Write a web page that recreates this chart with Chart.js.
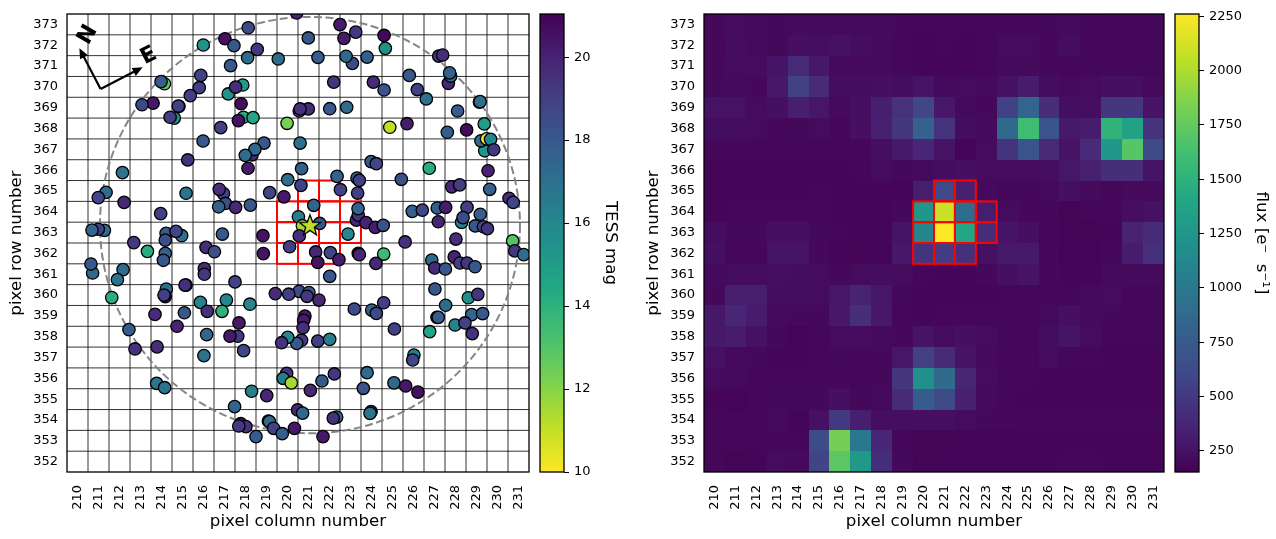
<!DOCTYPE html>
<html>
<head>
<meta charset="utf-8">
<title>TESS target pixel file</title>
<script src="https://cdn.jsdelivr.net/npm/chart.js@4"></script>
<style>
  html, body { margin: 0; padding: 0; background: #fff; width: 1276px; height: 539px; overflow: hidden; }
  canvas { position: absolute; top: 0; }
</style>
</head>
<body>
<canvas id="skyChart" width="535" height="539" style="left:0"></canvas>
<canvas id="magBar" width="105" height="539" style="left:535px"></canvas>
<canvas id="fluxChart" width="533" height="539" style="left:637px"></canvas>
<canvas id="fluxBar" width="106" height="539" style="left:1170px"></canvas>
<script>
const columns = [210, 211, 212, 213, 214, 215, 216, 217, 218, 219, 220, 221, 222, 223, 224, 225, 226, 227, 228, 229, 230, 231];
const rows = [352, 353, 354, 355, 356, 357, 358, 359, 360, 361, 362, 363, 364, 365, 366, 367, 368, 369, 370, 371, 372, 373];
const magTicks = [10, 12, 14, 16, 18, 20];
const fluxTicks = [250, 500, 750, 1000, 1250, 1500, 1750, 2000, 2250];

// nearby sources: column, row, TESS mag (same index in each list)
const sourceCols = [
  218.13, 217.02, 215.99, 217.45, 218.56, 218.10, 219.56, 217.29, 214.14, 213.98, 215.87, 215.80, 217.87, 217.18, 217.53,
  215.37, 213.60, 213.07, 217.79, 214.83, 214.80, 214.61, 214.41, 217.90, 218.36, 217.66, 219.98, 216.82, 215.98, 218.31,
  218.88, 218.45, 217.99, 215.25, 218.12, 212.14, 220.01, 211.36, 210.99, 215.17, 216.95, 216.75, 219.15, 219.83, 212.22,
  217.04, 216.72, 217.53, 218.23, 213.96, 211.28, 210.99, 210.69, 214.96, 214.22, 214.69, 214.18, 216.90, 218.83, 212.68,
  222.50, 223.25, 220.99, 222.69, 224.60, 224.66, 221.45, 223.09, 222.79, 223.79, 227.20, 227.39, 225.80, 227.66, 227.77,
  227.72, 222.20, 224.09, 224.60, 226.18, 226.61, 229.14, 229.17, 220.99, 220.56, 220.60, 222.01, 222.82, 228.10, 229.37,
  225.69, 224.87, 228.53, 227.61, 229.39, 229.21, 229.48, 229.67, 229.82, 220.60, 223.98, 224.23, 226.75, 229.55, 220.67,
  222.36, 223.31, 223.42, 225.42, 220.64, 222.52, 227.82, 228.20, 223.34, 229.63, 230.55, 230.75, 221.25, 223.28, 223.37,
  223.36, 223.74, 224.18, 224.56, 225.94, 226.42, 227.13, 227.53, 228.55, 229.18, 228.29, 228.36, 227.18, 228.94, 229.33,
  229.52, 220.52, 221.53, 220.71, 220.56, 222.88, 225.60, 228.02, 230.72, 220.44,
  221.34, 222.04, 221.44, 222.45, 223.37, 223.42, 224.58, 224.21, 226.87, 227.94, 227.01, 227.52, 228.21, 228.55, 228.93,
  230.82, 231.25, 222.01, 227.02, 228.61, 229.06, 220.55, 221.02, 220.93, 221.50, 227.53, 223.18, 224.01, 224.23, 224.58,
  227.12, 227.18, 228.77, 229.29, 227.98, 228.45, 228.80, 226.77, 225.09, 220.83, 220.77, 220.74, 220.67, 220.44, 221.44,
  222.01, 226.02, 225.96, 223.79, 222.23, 221.64, 221.09, 223.61, 225.07, 225.63, 226.21, 223.98, 223.93, 222.34, 222.18,
  220.48, 220.72, 221.69,
  216.12, 216.52, 213.33, 214.18, 214.09, 218.85, 220.10, 210.72, 210.64, 212.17, 211.90, 216.04, 216.04, 217.50, 214.23,
  215.17, 215.12, 214.18, 214.12, 211.63, 215.85, 217.09, 218.21, 219.42, 220.06, 216.18, 216.88, 215.09, 213.69, 217.69,
  214.74, 212.45, 216.15, 217.63, 217.26, 220.01, 219.72, 212.74, 213.79, 216.02, 217.91, 219.96, 219.79, 220.18, 213.77,
  214.15, 218.29, 219.01, 217.48, 217.77, 218.02, 217.68, 219.09, 219.14, 219.34, 219.75, 220.33, 218.50
];
const sourceRows = [
  372.84, 372.31, 372.01, 371.98, 371.80, 371.40, 371.34, 371.02, 370.15, 370.25, 370.55, 369.96, 370.09, 369.66, 369.99,
  369.58, 369.22, 369.14, 369.19, 369.06, 369.08, 368.50, 368.54, 368.54, 368.52, 368.38, 368.25, 368.04, 367.40, 366.73,
  367.30, 367.00, 366.71, 366.49, 366.09, 365.88, 365.54, 364.93, 364.68, 364.89, 364.87, 365.08, 364.92, 364.72, 364.45,
  364.40, 364.24, 364.21, 364.32, 363.91, 363.11, 363.16, 363.12, 362.85, 362.96, 363.06, 362.64, 362.93, 362.85, 362.52,
  372.99, 372.63, 372.35, 372.33, 372.47, 371.85, 371.42, 371.13, 371.47, 371.43, 371.48, 371.53, 370.55, 370.17, 370.52,
  370.67, 370.23, 370.23, 369.85, 369.87, 369.42, 369.27, 369.29, 368.94, 368.84, 368.94, 368.95, 369.02, 368.84, 368.22,
  368.23, 368.06, 367.93, 367.82, 366.93, 367.41, 367.50, 367.48, 366.98, 367.30, 366.41, 366.31, 366.09, 365.97, 366.07,
  365.70, 365.62, 365.51, 365.56, 365.27, 365.06, 365.20, 365.29, 364.90, 365.08, 364.65, 364.45, 364.31, 363.60, 363.84,
  364.15, 363.48, 363.25, 363.35, 364.02, 364.08, 364.18, 364.21, 364.21, 363.88, 363.49, 363.72, 363.52, 363.32, 363.28,
  363.19, 363.76, 363.44, 363.33, 362.84, 362.93, 362.55, 362.69, 362.60, 373.55,
  362.07, 362.04, 361.57, 361.70, 362.00, 361.94, 361.97, 361.52, 361.68, 361.83, 361.30, 361.25, 361.54, 361.54, 361.36,
  362.12, 361.94, 360.90, 360.29, 359.87, 360.03, 360.18, 360.12, 359.94, 359.76, 359.51, 359.33, 359.28, 359.12, 359.63,
  358.93, 358.93, 359.06, 359.11, 358.56, 358.66, 358.15, 358.24, 358.37, 358.99, 358.79, 358.43, 357.83, 357.68, 357.79,
  357.87, 357.12, 356.88, 356.27, 356.21, 355.87, 355.42, 355.52, 355.78, 355.63, 355.34, 354.40, 354.32, 354.14, 354.09,
  354.48, 354.33, 353.20,
  362.29, 362.08, 362.10, 362.00, 361.67, 361.99, 362.32, 361.06, 361.49, 361.22, 360.74, 361.27, 361.00, 360.63, 360.29,
  360.48, 360.48, 359.92, 360.00, 359.88, 359.65, 359.76, 359.56, 360.07, 360.04, 359.22, 359.22, 359.15, 359.07, 358.66,
  358.50, 358.34, 358.10, 358.02, 358.03, 357.97, 357.71, 357.41, 357.51, 357.09, 357.33, 356.24, 356.00, 355.78, 355.76,
  355.55, 355.38, 355.17, 354.64, 353.82, 353.68, 353.71, 353.95, 353.92, 353.60, 353.34, 353.60, 353.20
];
const sourceMags = [
  18.6, 20.6, 15.4, 18.0, 19.3, 17.2, 17.2, 17.9, 12.8, 17.8, 18.9, 19.0, 15.0, 15.5, 19.6,
  19.0, 20.3, 18.6, 20.7, 20.3, 18.9, 15.5, 19.0, 14.5, 14.5, 20.5, 12.3, 19.0, 18.0, 19.8,
  18.0, 17.3, 17.2, 19.5, 20.2, 16.8, 17.0, 17.2, 18.7, 16.8, 18.8, 19.6, 18.8, 20.3, 19.8,
  18.4, 17.6, 19.8, 18.0, 19.0, 17.0, 19.0, 17.4, 17.0, 17.8, 18.7, 18.4, 18.0, 20.5, 19.2,
  20.2, 19.2, 18.0, 20.2, 20.8, 15.5, 17.8, 18.5, 17.3, 17.7, 19.5, 19.6, 18.0, 19.8, 17.0,
  17.6, 19.4, 19.7, 18.2, 19.0, 17.0, 20.0, 17.0, 19.6, 18.9, 19.5, 18.0, 17.2, 17.8, 15.0,
  20.2, 11.1, 20.7, 17.8, 15.3, 17.2, 10.3, 16.0, 19.3, 17.0, 18.0, 18.7, 14.2, 20.0, 17.7,
  17.6, 17.6, 19.0, 18.3, 18.9, 18.9, 19.8, 19.0, 19.0, 17.6, 19.6, 18.7, 17.5, 19.8, 19.4,
  17.6, 20.0, 20.2, 18.2, 17.6, 18.7, 17.7, 20.2, 19.0, 17.8, 16.2, 18.5, 20.0, 18.0, 18.8,
  19.4, 16.5, 18.0, 11.5, 19.5, 16.0, 19.5, 19.6, 13.0, 20.0,
  19.8, 18.7, 20.5, 20.2, 20.5, 19.9, 13.5, 19.8, 17.3, 20.0, 19.7, 18.0, 19.0, 19.4, 18.0,
  19.3, 17.0, 18.0, 18.0, 15.6, 19.4, 18.5, 18.0, 19.2, 19.8, 17.2, 18.5, 17.6, 18.6, 19.0,
  20.5, 17.9, 17.4, 18.0, 16.2, 18.9, 19.5, 14.6, 18.9, 20.3, 20.2, 19.6, 19.2, 18.0, 19.0,
  16.4, 16.3, 18.7, 17.2, 19.3, 18.0, 19.8, 18.2, 17.3, 20.3, 20.6, 20.0, 16.8, 17.2, 19.5,
  19.8, 17.3, 20.3,
  19.6, 18.4, 14.2, 17.6, 18.0, 20.5, 19.0, 17.3, 18.0, 17.2, 16.8, 19.7, 19.3, 18.8, 17.0,
  20.5, 19.6, 20.5, 19.0, 14.2, 16.2, 16.0, 16.0, 19.7, 19.0, 19.5, 14.0, 18.0, 19.7, 20.3,
  20.0, 17.9, 17.4, 19.2, 20.3, 15.9, 19.5, 19.5, 19.6, 16.9, 18.7, 19.3, 16.5, 11.5, 16.7,
  16.9, 16.3, 19.8, 17.5, 20.5, 19.5, 19.2, 20.5, 17.3, 18.9, 17.8, 20.3, 17.8
];
const targetCol = [221.07];
const targetRow = [363.36];
const targetMag = [11.1];

// pipeline aperture, [column, row] of each pixel
const apertureCells = [
  [221, 365], [222, 365],
  [220, 364], [221, 364], [222, 364], [223, 364],
  [220, 363], [221, 363], [222, 363], [223, 363],
  [220, 362], [221, 362], [222, 362]
];
const circleRadius = 10; // pixels, around the target

const compassTail = [211.10, 369.90];
const compassNorth = [210.09, 371.85];
const compassEast = [213.10, 370.94];
const compassNorthLabel = [210.5, 372.5];
const compassEastLabel = [213.4, 371.48];

// flux per pixel, top row (373) first, columns 210..231
const fluxRows = [
  [195, 215, 205, 200, 205, 205, 205, 205, 210, 195, 190, 190, 190, 190, 195, 195, 200, 205, 195, 190, 190, 190],
  [195, 225, 210, 200, 235, 230, 250, 225, 205, 190, 185, 190, 185, 190, 215, 215, 195, 225, 190, 190, 190, 190],
  [195, 215, 215, 270, 400, 290, 205, 205, 210, 190, 180, 185, 185, 190, 205, 205, 195, 190, 190, 190, 190, 190],
  [200, 205, 195, 290, 560, 400, 225, 225, 240, 225, 270, 210, 215, 210, 250, 310, 225, 210, 215, 235, 235, 205],
  [255, 255, 215, 245, 330, 280, 210, 240, 335, 450, 590, 290, 210, 195, 560, 830, 430, 230, 230, 490, 480, 260],
  [225, 225, 220, 195, 200, 215, 190, 240, 340, 480, 800, 460, 225, 210, 870, 1600, 700, 300, 310, 1510, 1350, 460],
  [190, 190, 190, 190, 190, 190, 190, 190, 230, 300, 370, 260, 180, 220, 470, 700, 400, 260, 400, 1250, 1700, 620],
  [185, 185, 185, 185, 185, 185, 185, 190, 215, 200, 205, 225, 235, 220, 215, 215, 230, 280, 340, 430, 430, 270],
  [185, 185, 185, 185, 185, 190, 185, 185, 185, 185, 320, 620, 340, 210, 190, 190, 205, 245, 205, 190, 205, 205],
  [185, 190, 190, 190, 190, 190, 185, 185, 185, 200, 1250, 2090, 900, 320, 215, 195, 195, 175, 190, 190, 230, 250],
  [225, 200, 200, 240, 235, 200, 190, 185, 185, 270, 1120, 2250, 1400, 430, 270, 240, 190, 170, 175, 185, 360, 400],
  [245, 195, 190, 270, 265, 195, 185, 175, 170, 290, 470, 520, 440, 250, 300, 300, 195, 170, 170, 190, 310, 440],
  [210, 215, 215, 230, 225, 220, 195, 220, 225, 220, 190, 185, 185, 195, 240, 260, 195, 180, 185, 205, 205, 205],
  [195, 320, 320, 225, 225, 220, 280, 350, 280, 200, 185, 185, 185, 185, 190, 190, 190, 190, 210, 215, 190, 190],
  [290, 370, 310, 210, 200, 195, 290, 430, 290, 190, 185, 190, 190, 190, 190, 190, 210, 235, 205, 200, 190, 190],
  [285, 310, 250, 200, 170, 190, 220, 215, 205, 195, 270, 220, 235, 215, 190, 190, 225, 265, 215, 190, 190, 190],
  [250, 210, 200, 185, 185, 190, 200, 195, 195, 280, 540, 400, 260, 205, 190, 190, 220, 190, 190, 185, 185, 185],
  [215, 205, 190, 190, 190, 190, 195, 190, 195, 480, 1200, 880, 380, 220, 190, 190, 185, 185, 185, 185, 185, 185],
  [180, 175, 190, 200, 200, 200, 240, 200, 210, 400, 760, 640, 340, 205, 190, 185, 185, 185, 185, 185, 185, 185],
  [190, 190, 190, 205, 185, 250, 500, 330, 230, 230, 235, 240, 215, 200, 195, 190, 190, 190, 190, 190, 190, 190],
  [190, 190, 190, 195, 190, 640, 1820, 1000, 370, 190, 175, 175, 180, 185, 185, 185, 185, 185, 185, 185, 185, 185],
  [190, 175, 180, 215, 210, 580, 1720, 1280, 420, 200, 175, 180, 180, 180, 185, 185, 185, 190, 190, 185, 185, 185]
];

const magRange = [10, 21.04];
const fluxRange = [153, 2260];
const viridisStops = ['#440154', '#482475', '#414487', '#355f8d', '#2a788e', '#21918c', '#22a884', '#44bf70', '#7ad151', '#bddf26', '#fde725'];

const FONT = '"DejaVu Sans", sans-serif';
const TICK_SIZE = 13;
const TITLE_SIZE = 16.67;

function hexToRgb(hex) {
    return [1, 3, 5].map(i => parseInt(hex.slice(i, i + 2), 16));
}

function viridis(t) {
    const pos = Math.min(Math.max(t, 0), 1) * (viridisStops.length - 1);
    const i = Math.min(Math.floor(pos), viridisStops.length - 2);
    const a = hexToRgb(viridisStops[i]);
    const b = hexToRgb(viridisStops[i + 1]);
    const c = a.map((v, k) => Math.round(v + (b[k] - v) * (pos - i)));
    return `rgb(${c[0]},${c[1]},${c[2]})`;
}

const magColor = m => viridis((magRange[1] - m) / (magRange[1] - magRange[0]));
const fluxColor = f => viridis((f - fluxRange[0]) / (fluxRange[1] - fluxRange[0]));

function makeStar(color) {
    // five pointed star, Chart.js has none of its own
    const size = 24;
    const c = document.createElement('canvas');
    c.width = size;
    c.height = size;
    const ctx = c.getContext('2d');
    ctx.beginPath();
    for (let i = 0; i < 10; i++) {
        const r = i % 2 ? 4.6 : 11;
        const a = -Math.PI / 2 + i * Math.PI / 5;
        ctx[i ? 'lineTo' : 'moveTo'](size / 2 + r * Math.cos(a), size / 2 + 0.8 + r * Math.sin(a));
    }
    ctx.closePath();
    ctx.fillStyle = color;
    ctx.fill();
    ctx.lineWidth = 1.3;
    ctx.strokeStyle = '#000';
    ctx.stroke();
    return c;
}

// labels must not reserve room past the plot area, the frames are fixed by hand
function clearScalePadding(scale) {
    scale.paddingLeft = 0;
    scale.paddingRight = 0;
    scale.paddingTop = 0;
    scale.paddingBottom = 0;
}

function pixelAxis(values, title, isX) {
    return {
        type: 'linear',
        position: isX ? 'bottom' : 'left',
        min: values[0] - 0.5,
        max: values[values.length - 1] + 0.5,
        grid: { display: false, drawTicks: false },
        border: { display: false },
        afterBuildTicks: scale => { scale.ticks = values.map(value => ({ value })); },
        afterFit: scale => {
            if (isX) scale.height = 67;
            else scale.width = 67;
            clearScalePadding(scale);
        },
        ticks: {
            autoSkip: false,
            color: '#000',
            font: { family: FONT, size: TICK_SIZE },
            padding: isX ? 13 : 9,
            minRotation: isX ? 90 : 0,
            maxRotation: isX ? 90 : 0,
            callback: value => String(value)
        },
        title: {
            display: true,
            text: title,
            color: '#000',
            font: { family: FONT, size: TITLE_SIZE },
            padding: isX ? { top: 0, bottom: 7 } : { top: 7, bottom: 0 }
        }
    };
}

function strokeFrame(chart) {
    const { ctx, chartArea: a } = chart;
    ctx.save();
    ctx.strokeStyle = '#000';
    ctx.lineWidth = 1.3;
    ctx.strokeRect(a.left, a.top, a.right - a.left, a.bottom - a.top);
    ctx.restore();
}

function strokeAperture(chart) {
    const { ctx, scales: { x, y } } = chart;
    ctx.save();
    ctx.strokeStyle = '#ff0000';
    ctx.lineWidth = 2;
    apertureCells.forEach(([col, row]) => {
        const left = x.getPixelForValue(col - 0.5);
        const right = x.getPixelForValue(col + 0.5);
        const top = y.getPixelForValue(row + 0.5);
        const bottom = y.getPixelForValue(row - 0.5);
        ctx.strokeRect(left, top, right - left, bottom - top);
    });
    ctx.restore();
}

function drawArrow(ctx, x0, y0, x1, y1) {
    const angle = Math.atan2(y1 - y0, x1 - x0);
    ctx.beginPath();
    ctx.moveTo(x0, y0);
    ctx.lineTo(x1 - 6 * Math.cos(angle), y1 - 6 * Math.sin(angle));
    ctx.stroke();
    ctx.beginPath();
    ctx.moveTo(x1, y1);
    ctx.lineTo(x1 - 10 * Math.cos(angle) + 4.5 * Math.sin(angle), y1 - 10 * Math.sin(angle) - 4.5 * Math.cos(angle));
    ctx.lineTo(x1 - 10 * Math.cos(angle) - 4.5 * Math.sin(angle), y1 - 10 * Math.sin(angle) + 4.5 * Math.cos(angle));
    ctx.closePath();
    ctx.fill();
}

const skyUnderlay = {
    id: 'skyUnderlay',
    beforeDatasetsDraw(chart) {
        const { ctx, chartArea: a, scales: { x, y } } = chart;
        ctx.save();
        // pixel boundaries
        ctx.strokeStyle = 'rgba(0,0,0,0.8)';
        ctx.lineWidth = 1;
        ctx.beginPath();
        columns.slice(1).forEach(col => {
            const px = x.getPixelForValue(col - 0.5);
            ctx.moveTo(px, a.top);
            ctx.lineTo(px, a.bottom);
        });
        rows.slice(1).forEach(row => {
            const py = y.getPixelForValue(row - 0.5);
            ctx.moveTo(a.left, py);
            ctx.lineTo(a.right, py);
        });
        ctx.stroke();

        strokeAperture(chart);

        // search radius
        const cx = x.getPixelForValue(targetCol[0]);
        const cy = y.getPixelForValue(targetRow[0]);
        const rx = Math.abs(x.getPixelForValue(targetCol[0] + circleRadius) - cx);
        const ry = Math.abs(y.getPixelForValue(targetRow[0] + circleRadius) - cy);
        ctx.beginPath();
        ctx.rect(a.left, a.top, a.right - a.left, a.bottom - a.top);
        ctx.clip();
        ctx.beginPath();
        ctx.ellipse(cx, cy, rx, ry, 0, 0, Math.PI * 2);
        ctx.strokeStyle = 'rgba(128,128,128,0.95)';
        ctx.lineWidth = 2;
        ctx.setLineDash([8, 3.5]);
        ctx.stroke();
        ctx.restore();
    },
    afterDatasetsDraw(chart) {
        const { ctx, scales: { x, y } } = chart;
        const px = p => [x.getPixelForValue(p[0]), y.getPixelForValue(p[1])];
        const tail = px(compassTail);
        const north = px(compassNorth);
        const east = px(compassEast);
        ctx.save();
        ctx.strokeStyle = '#000';
        ctx.fillStyle = '#000';
        ctx.lineWidth = 2.2;
        drawArrow(ctx, tail[0], tail[1], north[0], north[1]);
        drawArrow(ctx, tail[0], tail[1], east[0], east[1]);
        ctx.font = `bold 22px ${FONT}`;
        ctx.textAlign = 'center';
        ctx.textBaseline = 'middle';
        [['N', compassNorthLabel, -60], ['E', compassEastLabel, -27]].forEach(([label, pos, deg]) => {
            const p = px(pos);
            ctx.save();
            ctx.translate(p[0], p[1]);
            ctx.rotate(deg * Math.PI / 180);
            ctx.fillText(label, 0, 0);
            ctx.restore();
        });
        ctx.restore();
        strokeFrame(chart);
    }
};

const fluxLayer = {
    id: 'fluxLayer',
    beforeDatasetsDraw(chart) {
        const { ctx, scales: { x, y } } = chart;
        ctx.save();
        chart.data.datasets[0].data.forEach(cell => {
            const left = Math.round(x.getPixelForValue(cell.x - 0.5));
            const right = Math.round(x.getPixelForValue(cell.x + 0.5));
            const top = Math.round(y.getPixelForValue(cell.y + 0.5));
            const bottom = Math.round(y.getPixelForValue(cell.y - 0.5));
            ctx.fillStyle = fluxColor(cell.v);
            ctx.fillRect(left, top, right - left, bottom - top);
        });
        ctx.restore();
        strokeAperture(chart);
        strokeFrame(chart);
    }
};

const sourcePoints = sourceCols.map((col, i) => ({ x: col, y: sourceRows[i] }));

new Chart(document.getElementById('skyChart'), {
    type: 'scatter',
    data: {
        datasets: [{
            label: 'target',
            data: [{ x: targetCol[0], y: targetRow[0] }],
            pointStyle: makeStar(magColor(targetMag[0])),
            clip: 0
        }, {
            label: 'sources',
            data: sourcePoints,
            pointRadius: 6.2,
            borderWidth: 1.3,
            borderColor: '#000',
            backgroundColor: sourceMags.map(magColor),
            clip: 0
        }]
    },
    options: {
        responsive: false,
        animation: false,
        layout: { autoPadding: false, padding: { top: 14, right: 6 } },
        plugins: { legend: { display: false }, tooltip: { enabled: false } },
        scales: {
            x: pixelAxis(columns, 'pixel column number', true),
            y: pixelAxis(rows, 'pixel row number', false)
        }
    },
    plugins: [skyUnderlay]
});

const fluxCells = [];
fluxRows.forEach((values, r) => {
    values.forEach((v, c) => {
        fluxCells.push({ x: columns[c], y: rows[rows.length - 1 - r], v });
    });
});

new Chart(document.getElementById('fluxChart'), {
    type: 'scatter',
    data: { datasets: [{ label: 'flux', data: fluxCells, pointRadius: 0 }] },
    options: {
        responsive: false,
        animation: false,
        layout: { autoPadding: false, padding: { top: 14, right: 6 } },
        plugins: { legend: { display: false }, tooltip: { enabled: false } },
        scales: {
            x: pixelAxis(columns, 'pixel column number', true),
            y: pixelAxis(rows, 'pixel row number', false)
        }
    },
    plugins: [fluxLayer]
});

function colorbarPlugin(colorAt, range) {
    return {
        id: 'colorbarFill',
        beforeDatasetsDraw(chart) {
            const { ctx, chartArea: a, scales: { y } } = chart;
            const grad = ctx.createLinearGradient(0, y.getPixelForValue(range[0]), 0, y.getPixelForValue(range[1]));
            for (let i = 0; i <= 40; i++) {
                const t = i / 40;
                grad.addColorStop(t, colorAt(range[0] + (range[1] - range[0]) * t));
            }
            ctx.save();
            ctx.fillStyle = grad;
            ctx.fillRect(a.left, a.top, a.right - a.left, a.bottom - a.top);
            ctx.restore();
            strokeFrame(chart);
        }
    };
}

function makeColorbar(id, ticks, range, title, colorAt, axisWidth, titlePad) {
    new Chart(document.getElementById(id), {
        type: 'scatter',
        data: { datasets: [{ data: [] }] },
        options: {
            responsive: false,
            animation: false,
            layout: { padding: { top: 14, bottom: 67, left: 5 } },
            plugins: { legend: { display: false }, tooltip: { enabled: false } },
            scales: {
                x: { display: false, min: 0, max: 1 },
                y: {
                    type: 'linear',
                    position: 'right',
                    min: range[0],
                    max: range[1],
                    grid: { drawOnChartArea: false, color: '#000', tickLength: 5, lineWidth: 1 },
                    border: { display: false },
                    afterBuildTicks: scale => { scale.ticks = ticks.map(value => ({ value })); },
                    afterFit: scale => {
                        scale.width = axisWidth;
                        clearScalePadding(scale);
                    },
                    ticks: {
                        autoSkip: false,
                        color: '#000',
                        padding: 5,
                        font: { family: FONT, size: TICK_SIZE },
                        callback: value => String(value)
                    },
                    title: {
                        display: true,
                        text: title,
                        color: '#000',
                        font: { family: FONT, size: TITLE_SIZE },
                        padding: titlePad
                    }
                }
            }
        },
        plugins: [colorbarPlugin(colorAt, range)]
    });
}

makeColorbar('magBar', magTicks, magRange, 'TESS mag', magColor, 76, { top: 20, bottom: 0 });
makeColorbar('fluxBar', fluxTicks, fluxRange, 'flux [e\u207b  s\u207b\u00b9]', fluxColor, 77, { top: 5, bottom: 0 });
</script>
</body>
</html>
